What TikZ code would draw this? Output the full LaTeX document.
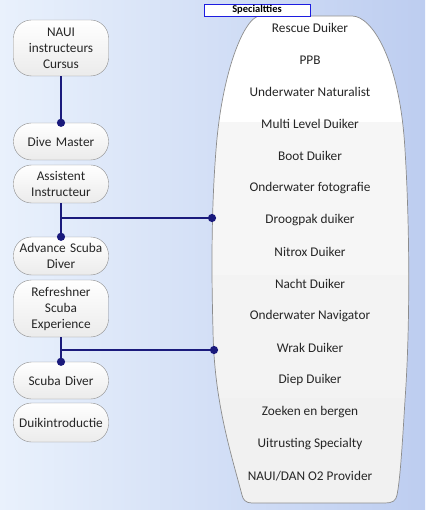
\documentclass[tikz,border=0pt]{standalone}
\usepackage{fontspec}
\setmainfont{Carlito}
\usepackage{tikz}
\usetikzlibrary{arrows.meta,positioning,calc}
\definecolor{bgleft}{HTML}{E9F1FC}
\definecolor{bgright}{HTML}{BDCDF0}
\definecolor{navy}{HTML}{1A1A7C}
\definecolor{pillline}{HTML}{8C8C8C}
\definecolor{pilltop}{HTML}{FFFFFF}
\definecolor{pillbot}{HTML}{EBEBEB}
\definecolor{bandb}{HTML}{F6F6F6}
\definecolor{bandc}{HTML}{F3F3F3}
\definecolor{bandd}{HTML}{F1F1F1}
\definecolor{tagblue}{HTML}{1C1CE0}
\tikzset{
  % grey pill shaped course box on the left
  pill/.style  = {rectangle, rounded corners=18pt, draw=pillline, top color=pilltop,
                  bottom color=pillbot, align=center, text width=88pt, inner sep=0pt,
                  minimum width=95pt, minimum height=#1, text=black!85,
                  font=\fontsize{13.3}{16}\selectfont},
  pill/.default = 37pt,
  item/.style  = {font=\fontsize{13.3}{16}\selectfont, text=black!85, inner sep=0pt},
  conn/.style  = {line width=2.6pt, navy, -{Circle[length=8pt]}, shorten >=-4pt},
  tag/.style   = {draw=tagblue, line width=0.9pt, fill=white, inner sep=0pt,
                  minimum width=106pt, minimum height=12pt,
                  font=\fontsize{10.5}{12}\bfseries\selectfont},
}
\begin{document}
\begin{tikzpicture}[x=1pt,y=-1pt]
\useasboundingbox (0,0) rectangle (425,510);
\shade[left color=bgleft, right color=bgright] (0,0) rectangle (425,510);
% specialty shape
\def\spshape{(260,16) -- (352,16) .. controls (372,16) and (400,60) .. (405,150)
  .. controls (410,230) and (410,330) .. (405,400)
  .. controls (402,450) and (400,480) .. (397,495)
  .. controls (396,501) and (392,503) .. (385,503) -- (252,503)
  .. controls (246,503) and (243,500) .. (242,495)
  .. controls (230,450) and (214,400) .. (213,330)
  .. controls (211,260) and (212,200) .. (216,150)
  .. controls (222,70) and (245,16) .. (260,16) -- cycle}
\begin{scope}
  \clip \spshape;
  \fill[white] (200,0) rectangle (425,122);
  \fill[bandb] (200,122) rectangle (425,275);
  \fill[bandc] (200,275) rectangle (425,398);
  \fill[bandd] (200,398) rectangle (425,510);
\end{scope}
\draw[pillline, line width=0.7pt] \spshape;
\node[tag] (spec) at (257,10) {Specialtties};
\foreach \t [count=\i] in {Rescue Duiker, PPB, Underwater Naturalist, Multi Level Duiker,
    Boot Duiker, Onderwater fotografie, Droogpak duiker, Nitrox Duiker, Nacht Duiker,
    Onderwater Navigator, Wrak Duiker, Diep Duiker, Zoeken en bergen,
    Uitrusting Specialty, NAUI/DAN O2 Provider}
  \node[item] (s\i) at (310,{28+32*(\i-1)}) {\t};
% courses
\node[pill=56pt] (naui) at (61,48) {NAUI\\instructeurs\\Cursus};
\node[pill] (dm) at (61,141.5) {Dive Master};
\node[pill=38pt] (ai) at (61,184) {Assistent\\Instructeur};
\node[pill=38pt] (adv) at (61,256) {Advance Scuba\\Diver};
\node[pill=57pt] (ref) at (61,308.5) {Refreshner\\Scuba\\Experience};
\node[pill] (sd) at (61,380.5) {Scuba Diver};
\node[pill=39pt] (di) at (61,422.5) {Duikintroductie};
\coordinate (edgeA) at (212,218);
\coordinate (edgeB) at (214,350);
% connectors
\draw[conn] (naui.south) -- (dm.north);
\draw[conn] (ai.south) -- (adv.north);
\draw[conn] (ai.south |- edgeA) -- (edgeA);
\draw[conn] (ref.south) -- (sd.north);
\draw[conn] (ref.south |- edgeB) -- (edgeB);
\end{tikzpicture}
\end{document}
